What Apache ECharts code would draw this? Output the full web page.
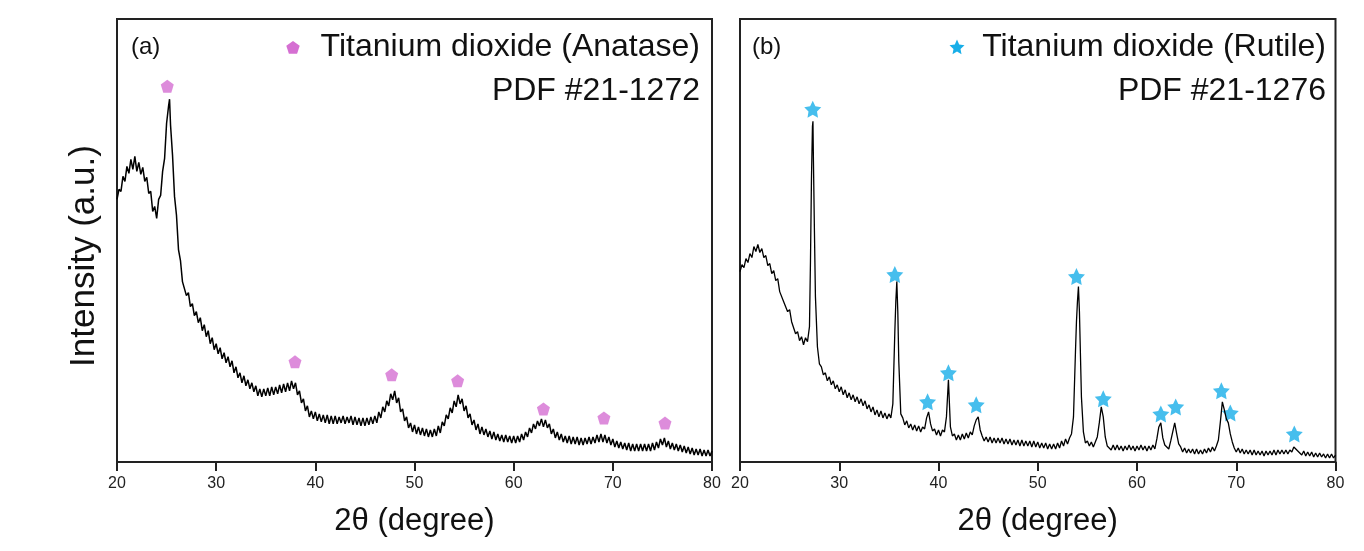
<!DOCTYPE html>
<html>
<head>
<meta charset="utf-8">
<script src="https://cdn.jsdelivr.net/npm/echarts@6/dist/echarts.min.js"></script>
<style>html,body{margin:0;padding:0;background:#fff;}#c{width:1364px;height:551px;}</style>
</head>
<body>
<div id="c"></div>
<script>
// ---- data (2θ grid 20..80 step 0.2 °, intensities in arbitrary units) ----
var thetaStart = 20, thetaStep = 0.2;
var anataseI = [
262,272,270,285,280,295,288,302,292,305,
290,299,287,294,280,284,268,270,250,255,
243,262,266,290,303,338,355,336,306,265,
246,212,201,180,181,166,169,155,158,146,
150,139,144,131,137,125,131,118,124,112,
118,108,114,103,109,99,105,95,101,89,
95,84,89,79,86,76,82,73,79,70,
76,66,73,65,73,66,74,66,75,67,
75,68,77,69,78,70,79,71,81,73,
79,67,71,59,63,51,56,45,51,43,
50,41,48,40,47,39,47,38,46,38,
46,38,45,39,46,38,45,39,46,37,
45,37,44,36,44,36,44,37,45,38,
46,39,50,44,55,50,61,56,68,62,
71,59,64,50,53,41,45,34,39,30,
37,28,35,27,34,26,33,25,32,25,
33,26,36,29,40,36,47,43,54,49,
61,55,67,58,63,51,56,44,48,37,
42,32,38,28,35,27,33,25,31,23,
30,22,28,21,27,20,27,20,26,19,
26,19,26,20,28,22,30,25,34,29,
38,33,41,36,43,35,42,34,38,28,
33,24,30,22,28,20,26,19,26,18,
25,18,25,17,24,17,24,18,25,18,
25,19,27,20,28,20,27,19,25,17,
23,15,21,14,20,13,19,12,19,11,
18,11,18,11,18,11,18,11,18,11,
19,12,20,14,23,17,24,15,21,13,
19,12,18,11,17,10,16,9,15,8,
14,7,13,7,13,6,12,6,12,6,
11];
var anataseExtraX = [25.3];
var anataseExtraI = [362];

var rutileI = [
190,197,194,203,199,208,204,215,210,217,
209,213,204,206,196,198,188,191,181,183,
170,171,160,161,150,152,140,140,128,130,
121,125,117,124,120,135,282,300,165,115,
98,95,87,89,81,85,77,81,73,77,
70,75,67,72,64,69,62,67,60,65,
58,63,56,61,53,57,50,55,47,52,
45,51,44,49,43,48,44,58,130,180,
100,48,44,37,41,34,38,32,37,31,
36,30,35,33,44,50,38,31,33,27,
32,26,32,30,45,82,35,26,28,22,
27,22,28,23,29,24,30,27,36,42,
45,32,26,21,25,20,25,19,24,19,
24,19,24,18,23,18,23,17,22,17,
22,16,22,16,21,16,21,15,21,15,
20,14,19,14,19,13,18,13,18,13,
19,14,21,16,23,18,24,28,45,110,
160,150,65,30,19,21,16,20,15,20,
25,39,55,45,25,16,16,12,17,12,
17,12,16,11,16,12,17,12,16,11,
16,12,17,12,16,11,16,12,17,13,
23,35,39,24,17,15,13,21,30,39,
28,18,15,10,14,9,13,9,13,8,
13,8,12,8,13,9,14,10,15,11,
16,22,40,60,52,43,39,28,20,14,
10,14,9,13,8,12,8,12,7,12,
7,11,7,11,6,11,7,11,7,12,
7,12,8,12,8,12,8,12,10,15,
15,11,10,7,11,6,10,6,10,5,
9,5,9,5,8,4,8,4,8,4,
7];
var rutileExtraX = [27.1, 27.3, 27.35, 27.5, 35.7, 35.9, 53.9, 54.1];
var rutileExtraI = [200, 335, 340, 230, 160, 150, 140, 175];

// reference peak markers
var anataseMarkX = [25.07, 37.95, 47.7, 54.35, 63.0, 69.1, 75.26];
var anataseMarkI = [375, 100, 87, 81, 53, 44, 39];
var rutileMarkX = [27.33, 35.6, 38.9, 41.0, 43.8, 53.9, 56.6, 62.4, 63.9, 68.5, 69.4, 75.85];
var rutileMarkI = [352, 187, 60, 89, 57, 185, 63, 48, 55, 71, 49, 28];

var xTicks = [20, 30, 40, 50, 60, 70, 80];

// ---- build series data ----
function build(vals, ex, ei) {
  var pts = [];
  for (var i = 0; i < vals.length; i++) pts.push([+(thetaStart + i * thetaStep).toFixed(2), vals[i]]);
  for (var j = 0; j < ex.length; j++) pts.push([ex[j], ei[j]]);
  pts.sort(function (a, b) { return a[0] - b[0]; });
  return pts;
}
function zip(a, b) { return a.map(function (v, i) { return [v, b[i]]; }); }

var PENT = 'path://M0,-10 L9.51,-3.09 L5.88,8.09 L-5.88,8.09 L-9.51,-3.09 Z';
var STAR = 'path://M0,-10 L2.94,-4.05 L9.51,-3.09 L4.76,1.55 L5.88,8.09 L0,5 L-5.88,8.09 L-4.76,1.55 L-9.51,-3.09 L-2.94,-4.05 Z';
var PINK = '#d56fd2', BLUE = '#18aee8';
var FONT = 'Liberation Sans, Arial, sans-serif';

function xAx(idx) {
  return {
    type: 'value', gridIndex: idx, min: 20, max: 80, interval: 10,
    name: '2θ (degree)', nameLocation: 'middle', nameGap: 44,
    nameTextStyle: { fontFamily: FONT, fontSize: 31, color: '#111' },
    axisLine: { show: true, onZero: false, lineStyle: { color: '#222', width: 2 } },
    axisTick: { show: true, inside: false, length: 9, lineStyle: { color: '#222', width: 2 } },
    axisLabel: { fontFamily: FONT, fontSize: 16, color: '#222', margin: 14,
      formatter: function (v) { return xTicks.indexOf(v) >= 0 ? String(v) : ''; } },
    splitLine: { show: false }
  };
}
function yAx(idx) {
  return {
    type: 'value', gridIndex: idx, min: 0, max: 442,
    axisLine: { show: true, lineStyle: { color: '#222', width: 2 } },
    axisTick: { show: false }, axisLabel: { show: false }, splitLine: { show: false }
  };
}

var chart = echarts.init(document.getElementById('c'), null, { renderer: 'canvas' });
chart.setOption({
  animation: false,
  backgroundColor: '#fff',
  grid: [
    { left: 117, right: 652, top: 19, bottom: 89, show: true, borderColor: '#222', borderWidth: 2, backgroundColor: 'transparent' },
    { left: 740, right: 28.5, top: 19, bottom: 89, show: true, borderColor: '#222', borderWidth: 2, backgroundColor: 'transparent' }
  ],
  xAxis: [xAx(0), xAx(1)],
  yAxis: [yAx(0), yAx(1)],
  series: [
    { type: 'line', xAxisIndex: 0, yAxisIndex: 0, data: build(anataseI, anataseExtraX, anataseExtraI),
      showSymbol: false, symbol: 'none', lineStyle: { color: '#000', width: 1.5 }, silent: true },
    { type: 'line', xAxisIndex: 1, yAxisIndex: 1, data: build(rutileI, rutileExtraX, rutileExtraI),
      showSymbol: false, symbol: 'none', lineStyle: { color: '#000', width: 1.3 }, silent: true },
    { type: 'scatter', xAxisIndex: 0, yAxisIndex: 0, data: zip(anataseMarkX, anataseMarkI),
      symbol: PENT, symbolSize: 13, itemStyle: { color: PINK }, silent: true },
    { type: 'scatter', xAxisIndex: 1, yAxisIndex: 1, data: zip(rutileMarkX, rutileMarkI),
      symbol: STAR, symbolSize: 17, itemStyle: { color: BLUE }, silent: true }
  ],
  graphic: [
    { type: 'text', x: 84, y: 256, rotation: Math.PI / 2,
      style: { text: 'Intensity (a.u.)', font: '35px ' + FONT, fill: '#111', textAlign: 'center', textVerticalAlign: 'middle' } },
    { type: 'text', left: 131, top: 35, style: { text: '(a)', font: '24px ' + FONT, fill: '#111' } },
    { type: 'text', left: 752, top: 35, style: { text: '(b)', font: '24px ' + FONT, fill: '#111' } },
    { type: 'text', right: 664, top: 31, style: { text: 'Titanium dioxide (Anatase)', font: '32px ' + FONT, fill: '#111' } },
    { type: 'text', right: 664, top: 75, style: { text: 'PDF #21-1272', font: '32px ' + FONT, fill: '#111' } },
    { type: 'text', right: 38, top: 31, style: { text: 'Titanium dioxide (Rutile)', font: '32px ' + FONT, fill: '#111' } },
    { type: 'text', right: 38, top: 75, style: { text: 'PDF #21-1276', font: '32px ' + FONT, fill: '#111' } },
    { type: 'polygon', shape: { points: [[293,41],[299.7,45.8],[297.1,53.7],[288.9,53.7],[286.3,45.8]] }, style: { fill: PINK } },
    { type: 'polygon', shape: { points: [[957,39.5],[959.2,44.5],[964.5,45.2],[960.5,48.9],[961.5,54.2],[957,51.5],[952.5,54.2],[953.5,48.9],[949.5,45.2],[954.8,44.5]] }, style: { fill: BLUE } }
  ]
});
</script>
</body>
</html>
